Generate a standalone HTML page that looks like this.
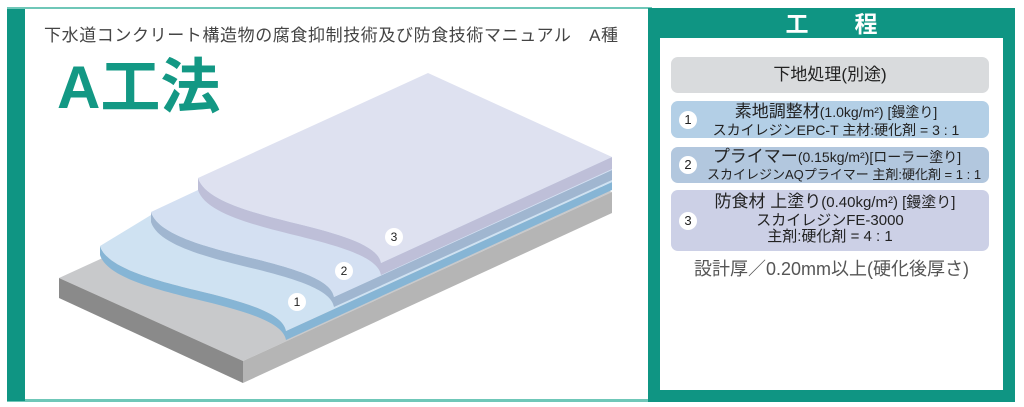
<!DOCTYPE html>
<html><head><meta charset="utf-8"><style>
html,body{margin:0;padding:0;background:#fff}
body{width:1024px;height:407px;position:relative;overflow:hidden;font-family:"Liberation Sans","Noto Sans CJK JP",sans-serif}
.abs{position:absolute}
.box{position:absolute;left:671px;width:318px;border-radius:7px;text-align:center;color:#222}
.num{position:absolute;left:8px;width:18px;height:18px;border-radius:50%;background:#fff;font-size:13px;line-height:18px;text-align:center;color:#222}
</style></head><body>
<div class="abs" style="left:7px;top:7px;width:645px;height:2px;background:#6fc7b8"></div>
<div class="abs" style="left:7px;top:399px;width:645px;height:3px;background:#6fc7b8"></div>
<div class="abs" style="left:7px;top:9px;width:18px;height:392px;background:#0f9583"></div>
<div class="abs" style="left:648px;top:8px;width:367px;height:394px;background:#0f9583"></div>
<div class="abs" style="left:660px;top:38px;width:343px;height:352px;background:#fff"></div>
<div class="abs" style="left:648px;top:10px;width:367px;text-align:center;color:#fff;font-size:23px;font-weight:bold;line-height:28px">工　　程</div>

<div class="abs" style="left:44px;top:21px;font-size:17px;letter-spacing:0.6px;color:#444;white-space:nowrap">下水道コンクリート構造物の腐食抑制技術及び防食技術マニュアル　A種</div>
<div class="abs" style="left:57px;top:53px;font-size:60px;font-weight:bold;color:#139884;line-height:70px;white-space:nowrap">A工法</div>

<svg class="abs" style="left:0;top:0" width="1024" height="407">
<polygon points="59,278 243,361 612,192 430,108" fill="#c8c9cb"/>
<polygon points="59,278 243,361 243,383 59,298" fill="#8a8a8a"/>
<polygon points="243,361 612,192 612,213 243,383" fill="#b5b5b5"/>
<path d="M100,246 C107,268 155,280 195,290 C245,302 283,313 286,331 L612,182 L612,190 L286,340 C283,322 245,311 195,299 C155,289 107,277 100,255 Z" fill="#86b5d5"/>
<path d="M100,246 C107,268 155,280 195,290 C245,302 283,313 286,331 L612,182 L612,165 L151,215 Z" fill="#cfe2f2"/>
<path d="M151,212 C158,234 203,246 243,256 C293,268 331,279 334,297 L612,170 L612,180 L334,307 C331,289 293,278 243,266 C203,256 158,244 151,222 Z" fill="#a0b6d0"/>
<path d="M151,212 C158,234 203,246 243,256 C293,268 331,279 334,297 L612,170 L612,157 L198,178 L198,190 Z" fill="#d4e0f2"/>
<path d="M198,178 C205,200 250,212 290,222 C340,234 378,245 381,263 L612,157 L612,169 L381,275 C378,257 340,246 290,234 C250,224 205,212 198,190 Z" fill="#bebfd8"/>
<path d="M198,178 C205,200 250,212 290,222 C340,234 378,245 381,263 L612,157 L428,73 Z" fill="#dee1f0"/>
<g font-size="12" text-anchor="middle" fill="#222" font-family="Liberation Sans, sans-serif">
<circle cx="297" cy="302" r="9" fill="#fff"/><text x="297" y="306">1</text>
<circle cx="344" cy="271" r="9" fill="#fff"/><text x="344" y="275">2</text>
<circle cx="394" cy="237" r="9" fill="#fff"/><text x="394" y="241">3</text>
</g>
</svg>

<div class="box" style="top:57px;height:36px;background:#d9dbdd;font-size:17px;line-height:36px">下地処理(別途)</div>
<div class="box" style="top:101px;height:37px;background:#b3cfe6">
 <div class="num" style="top:10px">1</div>
 <div style="font-size:17px;line-height:19px;margin-top:1px;padding-left:12px">素地調整材<span style="font-size:14px">(1.0kg/m²) [鏝塗り]</span></div>
 <div style="font-size:14px;line-height:16px;padding-left:12px">スカイレジンEPC-T 主材:硬化剤 = 3 : 1</div>
</div>
<div class="box" style="top:147px;height:36px;background:#b2c7de">
 <div class="num" style="top:9px">2</div>
 <div style="font-size:17px;line-height:19px;margin-top:0px;padding-left:14px">プライマー<span style="font-size:14px">(0.15kg/m²)[ローラー塗り]</span></div>
 <div style="font-size:13px;line-height:16px;padding-left:28px;white-space:nowrap">スカイレジンAQプライマー 主剤:硬化剤 = 1 : 1</div>
</div>
<div class="box" style="top:190px;height:61px;background:#ccd0e6">
 <div class="num" style="top:22px">3</div>
 <div style="font-size:17px;line-height:20px;margin-top:2px;padding-left:10px">防食材 上塗り<span style="font-size:15px">(0.40kg/m²) [鏝塗り]</span></div>
 <div style="font-size:15px;line-height:16px">スカイレジンFE-3000</div>
 <div style="font-size:15px;line-height:16px">主剤:硬化剤 = 4 : 1</div>
</div>
<div class="abs" style="left:660px;width:343px;top:257px;text-align:center;font-size:18px;color:#555;line-height:24px">設計厚／0.20mm以上(硬化後厚さ)</div>
</body></html>
